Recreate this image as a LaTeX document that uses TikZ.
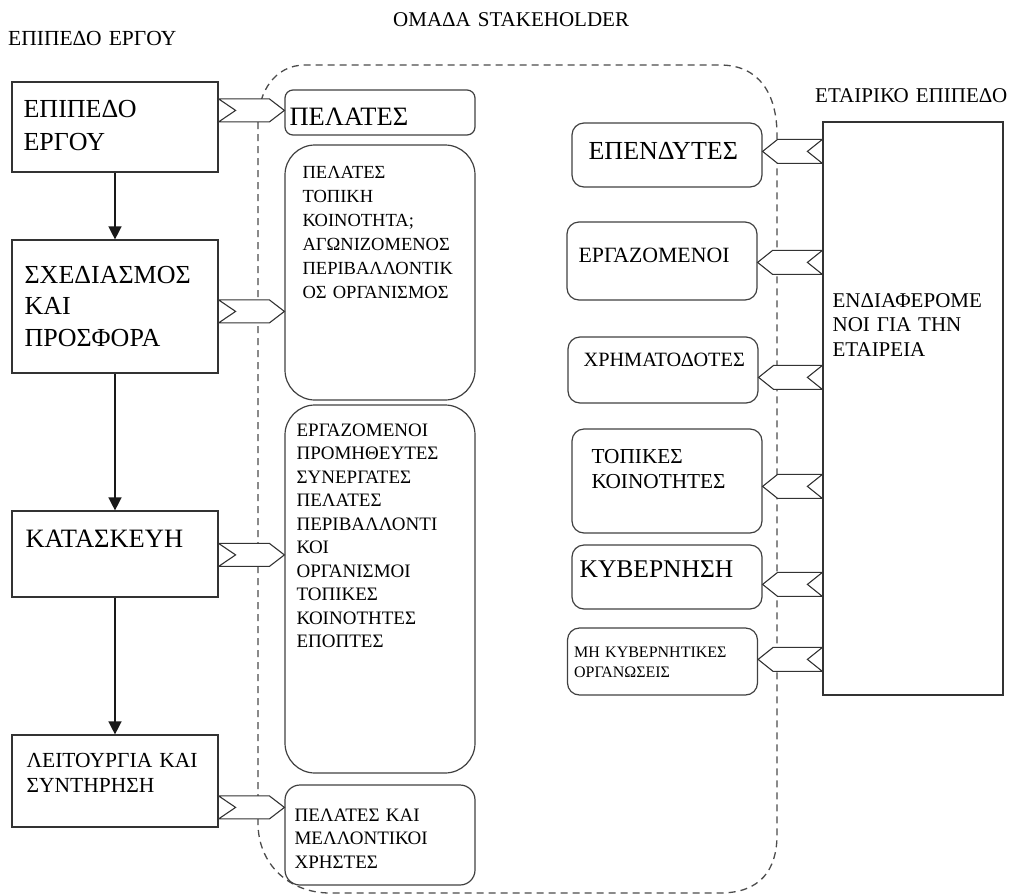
\documentclass[tikz,border=0pt]{standalone}
\usepackage{fontspec}
\setmainfont{Liberation Serif}
\usetikzlibrary{arrows.meta,calc}
\newcommand\chevright[2]{\draw[chev] ($(#1)+(0,-11.5)$) -- ($(#2)+(-15,-11.5)$) -- (#2) -- ($(#2)+(-15,11.5)$) -- ($(#1)+(0,11.5)$) -- ($(#1)+(17,0)$) -- cycle;}
\newcommand\chevleft[2]{\draw[chev] ($(#1)+(0,-12)$) -- ($(#2)+(15,-12)$) -- (#2) -- ($(#2)+(15,12)$) -- ($(#1)+(0,12)$) -- ($(#1)+(-15,0)$) -- cycle;}
\newcommand\fs[2]{\fontsize{#1}{#2}\selectfont}
\begin{document}
\begin{tikzpicture}[x=1pt,y=-1pt,
  sq/.style={draw=black!80,line width=1.2pt,inner sep=0pt,minimum width=206pt},
  rbox/.style={draw=black!75,line width=1.2pt,inner sep=0pt,minimum width=190pt},
  txt/.style={anchor=base west,inner sep=0pt,align=left,text width=400pt},
  chev/.style={draw=black!80,fill=white,line width=1.1pt,line join=miter},
  varrow/.style={draw=black!90,line width=1.4pt,-{Triangle[width=13pt,length=13pt]}},
  dashline/.style={draw=black!70,line width=1.3pt,dash pattern=on 7pt off 5pt}
]
\useasboundingbox (0,0) rectangle (1010,895);
% dashed stakeholder outline
\draw[dashline] (258,122) -- (258,823) .. controls (258,865) and (290,893) .. (330,893)
  -- (720,893) .. controls (760,893) and (777,870) .. (777,835)
  -- (777,135) .. controls (777,95) and (760,65) .. (720,65)
  -- (305,65) .. controls (275,65) and (258,92) .. (258,122) -- cycle;
% top labels
\node[txt,font=\fs{21.5}{26}] (lproj) at (8,45) {ΕΠΙΠΕΔΟ ΕΡΓΟΥ};
\node[txt,font=\fs{21}{26}] (lgroup) at (393,26) {ΟΜΑΔΑ STAKEHOLDER};
\node[txt,font=\fs{21}{26}] (lcorp) at (815,102) {ΕΤΑΙΡΙΚΟ ΕΠΙΠΕΔΟ};
% left boxes
\node[sq,minimum height=90pt] (b1) at (115,127) {};
\node[sq,minimum height=133pt] (b2) at (115,306.5) {};
\node[sq,minimum height=86pt] (b3) at (115,554) {};
\node[sq,minimum height=92pt] (b4) at (115,781) {};
\node[txt,font=\fs{26}{33}] (tb1) at ($(b1.north west)+(12,36)$) {ΕΠΙΠΕΔΟ\\ΕΡΓΟΥ};
\node[txt,font=\fs{26}{31.5}] (tb2) at ($(b2.north west)+(13,44)$) {ΣΧΕΔΙΑΣΜΟΣ\\ΚΑΙ\\ΠΡΟΣΦΟΡΑ};
\node[txt,font=\fs{26.5}{30}] (tb3) at ($(b3.north west)+(14,37)$) {ΚΑΤΑΣΚΕΥΗ};
\node[txt,font=\fs{21.5}{25}] (tb4) at ($(b4.north west)+(15,33)$) {ΛΕΙΤΟΥΡΓΙΑ ΚΑΙ\\ΣΥΝΤΗΡΗΣΗ};
\draw[varrow] (b1) -- (b2);
\draw[varrow] (b2) -- (b3);
\draw[varrow] (b3) -- (b4);
% middle boxes
\node[rbox,rounded corners=8pt,minimum height=45pt] (pel) at (380,112.5) {};
\node[rbox,rounded corners=30pt,minimum height=255pt] (m1) at (380,272.5) {};
\node[rbox,rounded corners=30pt,minimum height=368pt] (m2) at (380,589) {};
\node[rbox,rounded corners=15pt,minimum height=100pt] (m3) at (380,835) {};
\node[txt,font=\fs{26.5}{30}] (tpel) at ($(pel.north west)+(5,36)$) {ΠΕΛΑΤΕΣ};
\node[txt,font=\fs{18.5}{24}] (tm1) at ($(m1.north west)+(18,34)$) {ΠΕΛΑΤΕΣ\\ΤΟΠΙΚΗ\\ΚΟΙΝΟΤΗΤΑ;\\ΑΓΩΝΙΖΟΜΕΝΟΣ\\ΠΕΡΙΒΑΛΛΟΝΤΙΚ\\ΟΣ ΟΡΓΑΝΙΣΜΟΣ};
\node[txt,font=\fs{19}{23.5}] (tm2) at ($(m2.north west)+(12,32)$) {ΕΡΓΑΖΟΜΕΝΟΙ\\ΠΡΟΜΗΘΕΥΤΕΣ\\ΣΥΝΕΡΓΑΤΕΣ\\ΠΕΛΑΤΕΣ\\ΠΕΡΙΒΑΛΛΟΝΤΙ\\ΚΟΙ\\ΟΡΓΑΝΙΣΜΟΙ\\ΤΟΠΙΚΕΣ\\ΚΟΙΝΟΤΗΤΕΣ\\ΕΠΟΠΤΕΣ};
\node[txt,font=\fs{19}{23.5}] (tm3) at ($(m3.north west)+(10,37)$) {ΠΕΛΑΤΕΣ ΚΑΙ\\ΜΕΛΛΟΝΤΙΚΟΙ\\ΧΡΗΣΤΕΣ};
% right boxes
\node[rbox,rounded corners=12pt,minimum height=64pt] (inv) at (667,155) {};
\node[rbox,rounded corners=12pt,minimum height=78pt] (emp) at (662,261) {};
\node[rbox,rounded corners=12pt,minimum height=66pt] (fin) at (663,370) {};
\node[rbox,rounded corners=12pt,minimum height=104pt] (loc) at (667,481) {};
\node[rbox,rounded corners=12pt,minimum height=64pt] (gov) at (667,577) {};
\node[rbox,rounded corners=12pt,minimum height=67pt] (ngo) at (662.5,661.5) {};
\node[sq,minimum width=180pt,minimum height=573pt] (corp) at (913,408.5) {};
\node[txt,font=\fs{26}{30}] (tinv) at ($(inv.north west)+(17,37)$) {ΕΠΕΝΔΥΤΕΣ};
\node[txt,font=\fs{21.8}{26}] (temp) at ($(emp.north west)+(12,41)$) {ΕΡΓΑΖΟΜΕΝΟΙ};
\node[txt,font=\fs{20.3}{24}] (tfin) at ($(fin.north west)+(16,30)$) {ΧΡΗΜΑΤΟΔΟΤΕΣ};
\node[txt,font=\fs{21.3}{25}] (tloc) at ($(loc.north west)+(20,35)$) {ΤΟΠΙΚΕΣ\\ΚΟΙΝΟΤΗΤΕΣ};
\node[txt,font=\fs{25.5}{30}] (tgov) at ($(gov.north west)+(8,33)$) {ΚΥΒΕΡΝΗΣΗ};
\node[txt,font=\fs{16}{20}] (tngo) at ($(ngo.north west)+(7,30)$) {ΜΗ ΚΥΒΕΡΝΗΤΙΚΕΣ\\ΟΡΓΑΝΩΣΕΙΣ};
\node[txt,font=\fs{21}{24.5}] (tcorp) at ($(corp.north west)+(10,186)$) {ΕΝΔΙΑΦΕΡΟΜΕ\\ΝΟΙ ΓΙΑ ΤΗΝ\\ΕΤΑΙΡΕΙΑ};
% left chevrons
\coordinate (s1) at ($(b1.north east)+(0,29)$);
\coordinate (s2) at ($(b2.north east)+(0,72)$);
\coordinate (s3) at ($(b3.north east)+(0,44.5)$);
\coordinate (s4) at ($(b4.north east)+(0,73)$);
\coordinate (e1) at (s1 -| pel.west);
\coordinate (e2) at (s2 -| m1.west);
\coordinate (e3) at (s3 -| m2.west);
\coordinate (e4) at (s4 -| m3.west);
\chevright{s1}{e1}
\chevright{s2}{e2}
\chevright{s3}{e3}
\chevright{s4}{e4}
% right chevrons
\coordinate (r1) at ($(corp.north west)+(0,30)$);
\coordinate (r2) at ($(corp.north west)+(0,141)$);
\coordinate (r3) at ($(corp.north west)+(0,256)$);
\coordinate (r4) at ($(corp.north west)+(0,365)$);
\coordinate (r5) at ($(corp.north west)+(0,463)$);
\coordinate (r6) at ($(corp.north west)+(0,538)$);
\coordinate (q1) at (r1 -| inv.east);
\coordinate (q2) at (r2 -| emp.east);
\coordinate (q3) at (r3 -| fin.east);
\coordinate (q4) at (r4 -| loc.east);
\coordinate (q5) at (r5 -| gov.east);
\coordinate (q6) at (r6 -| ngo.east);
\chevleft{r1}{q1}
\chevleft{r2}{q2}
\chevleft{r3}{q3}
\chevleft{r4}{q4}
\chevleft{r5}{q5}
\chevleft{r6}{q6}
\end{tikzpicture}
\end{document}
